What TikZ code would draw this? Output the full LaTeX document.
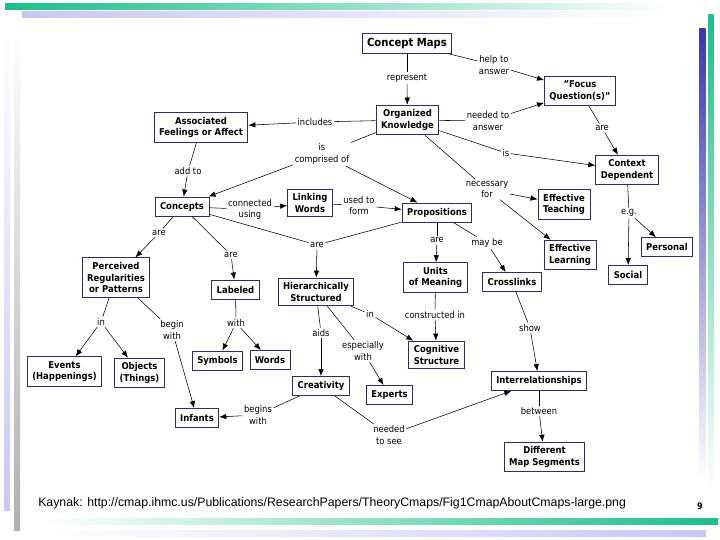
\documentclass[tikz,border=0pt]{standalone}
\usepackage{fontspec}
\setmainfont{DejaVu Sans Condensed}
\newfontfamily\urlfont{Liberation Sans}
\usetikzlibrary{arrows.meta}
\definecolor{boxline}{RGB}{45,45,95}
\definecolor{barteal}{RGB}{28,190,140}
\definecolor{barblue}{RGB}{55,55,185}
\definecolor{barlav}{RGB}{200,200,245}
\definecolor{bargray}{RGB}{175,175,175}

\begin{document}
\begin{tikzpicture}[x=1pt,y=-1pt,line width=0.55pt,
  box/.style={draw=boxline,line width=0.9pt,fill=white,align=center,
    inner xsep=5pt,inner ysep=4.5pt,minimum height=19pt,
    font=\fontsize{9.4}{11.5}\selectfont\bfseries},
  word/.style={align=center,inner sep=1.5pt,font=\fontsize{9.3}{11.5}\selectfont},
  arr/.style={-{Latex[length=7pt,width=5.5pt]}}]
  \fill[white] (0,0) rectangle (720,540);
  \useasboundingbox (0,0) rectangle (720,540);
  \shade[left color=barteal,right color=white] (5,4) rectangle (670,9.5);
  \shade[left color=barlav,right color=white] (22,12) rectangle (670,17.5);
  \shade[top color=white,bottom color=barlav] (4,30) rectangle (10,510);
  \shade[top color=white,bottom color=bargray] (14,30) rectangle (20,530);
  \shade[top color=barblue,bottom color=white] (699,29) rectangle (705.5,480);
  \shade[top color=barteal,bottom color=white] (708,15) rectangle (713.5,490);
  \shade[left color=white,right color=barteal] (40,518.5) rectangle (718,524);
  \shade[left color=white,right color=barlav] (45,530.5) rectangle (706,536);

  \node[box,font=\fontsize{11.2}{13}\selectfont\bfseries] (cmaps) at (407,43.5) {Concept Maps};
  \node[box] (focus) at (580,91) {{\char34}Focus\\Question(s){\char34}};
  \node[box] (orgk) at (407.5,120) {Organized\\Knowledge};
  \node[box] (feel) at (201,127.5) {Associated\\Feelings or Affect};
  \node[box] (ctx) at (627,170) {Context\\Dependent};
  \node[box] (conc) at (182,206.5) {Concepts};
  \node[box] (lwords) at (310,203) {Linking\\Words};
  \node[box] (props) at (437,212.5) {Propositions};
  \node[box] (teach) at (564,204.5) {Effective\\Teaching};
  \node[box] (learn) at (570,255) {Effective\\Learning};
  \node[box] (pers) at (667,247) {Personal};
  \node[box] (soc) at (628,275) {Social};
  \node[box] (units) at (435.5,277.5) {Units\\of Meaning};
  \node[box] (cross) at (512,282) {Crosslinks};
  \node[box] (perc) at (116,277.5) {Perceived\\Regularities\\or Patterns};
  \node[box] (lab) at (235.5,289.5) {Labeled};
  \node[box] (hier) at (316,292) {Hierarchically\\Structured};
  \node[box] (events) at (64.5,371.5) {Events\\(Happenings)};
  \node[box] (objs) at (139.5,373) {Objects\\(Things)};
  \node[box] (symb) at (217.5,360.5) {Symbols};
  \node[box] (words) at (270,360) {Words};
  \node[box] (cogn) at (436.5,355) {Cognitive\\Structure};
  \node[box] (creat) at (321,386) {Creativity};
  \node[box] (expert) at (389.5,395) {Experts};
  \node[box] (inf) at (197,418) {Infants};
  \node[box] (inter) at (539,381) {Interrelationships};
  \node[box] (segs) at (544.5,457) {Different\\Map Segments};

  \node[word] (represent) at (407,78) {represent};
  \node[word] (helpto) at (494,65) {help to\\answer};
  \node[word] (neededans) at (488,121) {needed to\\answer};
  \node[word] (arefocus) at (602,128) {are};
  \node[word] (incl) at (315,122) {includes};
  \node[word] (compr) at (322,154) {is\\comprised of};
  \node[word] (addto) at (188,171) {add to};
  \node[word] (isctx) at (506,153) {is};
  \node[word] (necess) at (487,189.5) {necessary\\for};
  \node[word] (eg) at (629,213) {e.g.};
  \node[word] (connu) at (250,209.5) {connected\\using};
  \node[word] (usedf) at (359,205.5) {used to\\form};
  \node[word] (areperc) at (159,233) {are};
  \node[word] (arelab) at (231,255) {are};
  \node[word] (arehier) at (317,245) {are};
  \node[word] (areunits) at (437,240) {are};
  \node[word] (maybe) at (487,243) {may be};
  \node[word] (constr) at (435,315) {constructed in};
  \node[word] (show) at (530,328) {show};
  \node[word] (inperc) at (101,322) {in};
  \node[word] (beginw) at (172,330) {begin\\with};
  \node[word] (withlab) at (236,323) {with};
  \node[word] (aids) at (321,333) {aids};
  \node[word] (espw) at (363,351) {especially\\with};
  \node[word] (inhier) at (370,314) {in};
  \node[word] (beginsw) at (258,415) {begins\\with};
  \node[word] (neededsee) at (389,435) {needed\\to see};
  \node[word] (betw) at (539,411) {between};

  \draw (cmaps) -- (represent); \draw[arr] (represent) -- (orgk);
  \draw (cmaps) -- (helpto); \draw[arr] (helpto) -- (focus);
  \draw (orgk) -- (neededans); \draw[arr] (neededans) -- (focus);
  \draw (focus) -- (arefocus); \draw[arr] (arefocus) -- (ctx);
  \draw (orgk) -- (incl); \draw[arr] (incl) -- (feel);
  \draw (orgk) -- (compr); \draw[arr] (compr) -- (conc); \draw[arr] (compr) -- (props);
  \draw (feel) -- (addto); \draw[arr] (addto) -- (conc);
  \draw (orgk) -- (isctx); \draw[arr] (isctx) -- (ctx);
  \draw (orgk) -- (necess); \draw[arr] (necess) -- (teach); \draw[arr] (necess) -- (learn);
  \draw (ctx) -- (eg); \draw[arr] (eg) -- (pers); \draw[arr] (eg) -- (soc);
  \draw (conc) -- (connu); \draw[arr] (connu) -- (lwords);
  \draw (lwords) -- (usedf); \draw[arr] (usedf) -- (props);
  \draw (conc) -- (areperc); \draw[arr] (areperc) -- (perc);
  \draw (conc) -- (arelab); \draw[arr] (arelab) -- (lab);
  \draw (conc) -- (arehier); \draw (props) -- (arehier); \draw[arr] (arehier) -- (hier);
  \draw (props) -- (areunits); \draw[arr] (areunits) -- (units);
  \draw (props) -- (maybe); \draw[arr] (maybe) -- (cross);
  \draw (units) -- (constr); \draw[arr] (constr) -- (cogn);
  \draw (cross) -- (show); \draw[arr] (show) -- (inter);
  \draw (perc) -- (inperc); \draw[arr] (inperc) -- (events); \draw[arr] (inperc) -- (objs);
  \draw (perc) -- (beginw); \draw[arr] (beginw) -- (inf);
  \draw (lab) -- (withlab); \draw[arr] (withlab) -- (symb); \draw[arr] (withlab) -- (words);
  \draw (hier) -- (aids); \draw[arr] (aids) -- (creat);
  \draw (hier) -- (espw); \draw[arr] (espw) -- (expert);
  \draw (hier) -- (inhier); \draw[arr] (inhier) -- (cogn);
  \draw (creat) -- (beginsw); \draw[arr] (beginsw) -- (inf);
  \draw (creat) -- (neededsee); \draw[arr] (neededsee) -- (inter);
  \draw (inter) -- (betw); \draw[arr] (betw) -- (segs);

  \node[anchor=west,inner sep=0pt,font=\urlfont\fontsize{12.3}{14}\selectfont] (source) at (38,503)
    {Kaynak: http://cmap.ihmc.us/Publications/ResearchPapers/TheoryCmaps/Fig1CmapAboutCmaps-large.png};
  \node[font=\fontsize{9}{10}\selectfont\bfseries] (pageno) at (700,506) {9};
\end{tikzpicture}
\end{document}
